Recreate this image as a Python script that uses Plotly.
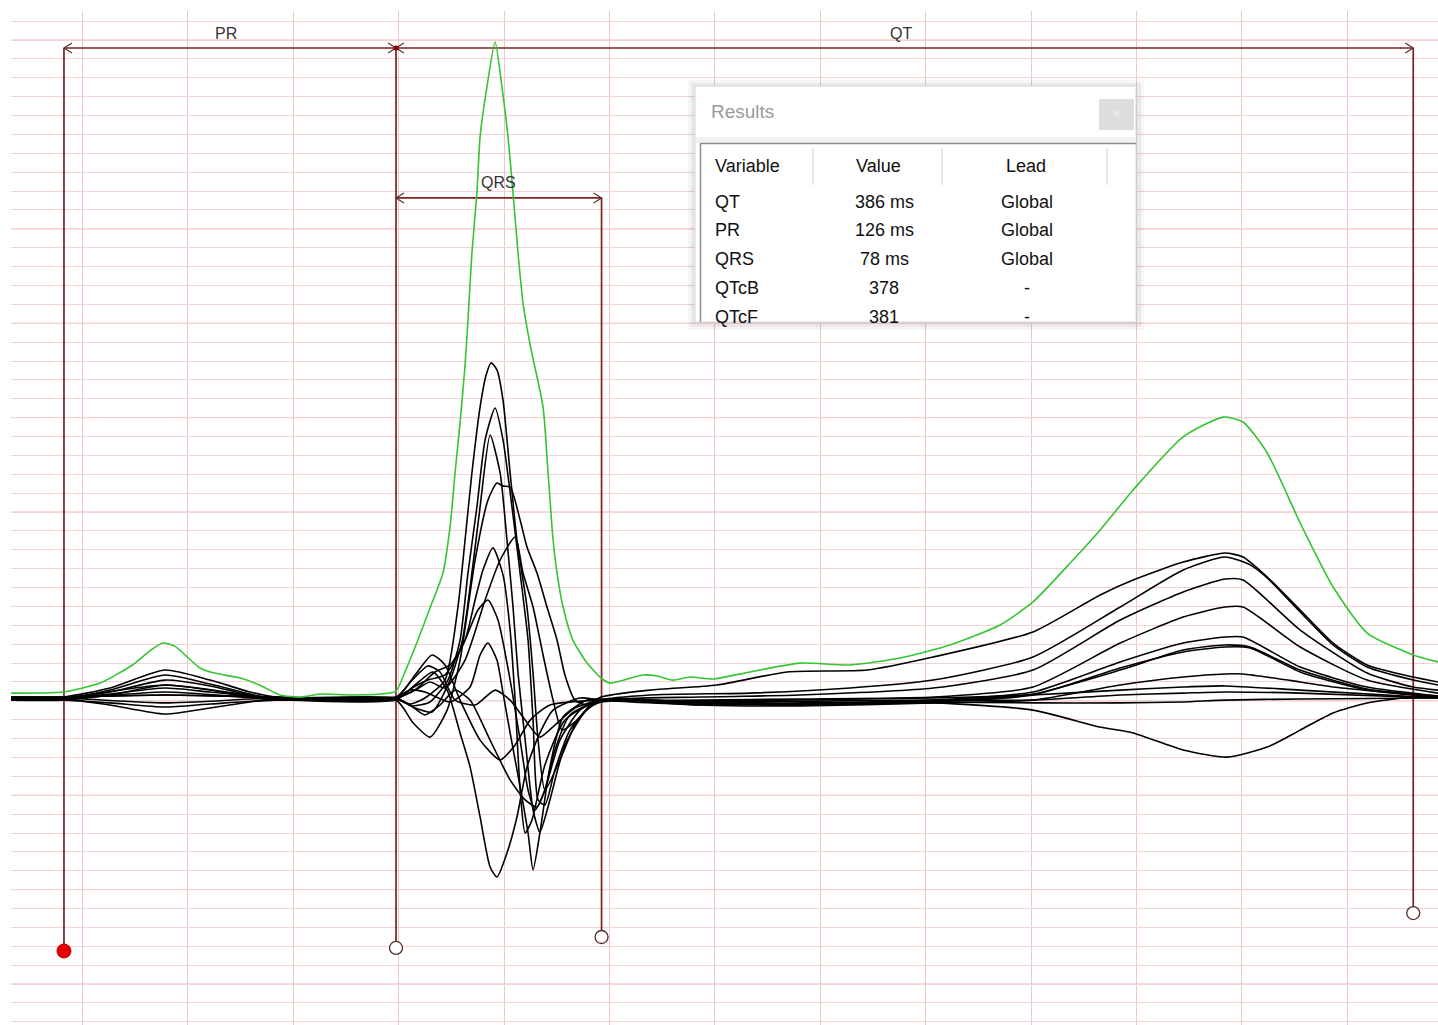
import plotly.graph_objects as go

# ---------------- data (time in ms from QRS onset, amplitude in microvolts) ----------------
GREEN_T = [-146.1, -126.4, -112.3, -100, -93, -88.4, -84, -74.4, -69, -59, -51, -44, -36, -29, -17, -6,
           0, 3.4, 8.3, 12.9, 17.8, 20.5, 22.4, 24.3, 26.2, 27.3, 28.8, 30.7, 31.9, 34.5, 37.6, 40.2, 42.5,
           44.4, 46.3, 48.2, 50.9, 55.8, 57.7, 59.6, 61.1, 63.4, 67.1, 72.5, 77.8, 81.2, 93.7, 99, 105,
           111.6, 120.3, 134.3, 153.3, 172.3, 191.3, 210.2, 229.2, 241.7, 256.9, 267.2, 279.7, 298.7,
           313.9, 321.4, 330.6, 343.1, 355.6, 368.5, 386, 395.4]
GREEN_V = [26, 32, 79, 175, 254, 291, 275, 159, 132, 106, 64, 16, 5, 21, 16, 21,
           37, 138, 307, 477, 662, 906, 1192, 1457, 1764, 2002, 2357, 2675, 2972, 3237, 3475, 3237, 2972,
           2675, 2357, 2092, 1870, 1541, 1192, 837, 662, 482, 307, 185, 106, 79, 122, 117, 95,
           111, 101, 138, 185, 175, 212, 281, 387, 509, 731, 890, 1102, 1383,
           1488, 1462, 1298, 927, 588, 344, 228, 191]

LEAD1_T = [-146.1, -126.4, -108.5, -87.7, -70.6, -55.4, -45.9, -25, 0, 5.3, 11, 18.6, 23.5, 26.2, 28.8,
           31.9, 34.2, 36.1, 38.3, 40.6, 43.3, 45.9, 49.7, 52, 53.9, 56.5, 62.2, 67.9, 73.6, 77.8, 96.4,
           121.8, 148.4, 178.7, 203.8, 241.7, 267.2, 279.7, 298.7, 314.6, 321.4, 330.6, 343.1, 355.6,
           368.5, 386, 395.4]
LEAD1_V = [5, 5, 53, 148, 95, 32, 5, -5, 0, -32, 0, 95, 482, 837, 1192,
           1541, 1711, 1775, 1738, 1578, 1192, 837, 482, 132, -222, -487, -328, -143, -37, 5, 42,
           69, 138, 148, 217, 350, 546, 625, 720, 768, 747, 641, 466, 291,
           175, 111, 85]

LEAD2_T = [-146.1, -126.4, -108.5, -87.7, -70.6, -55.4, -45.9, 0, 6.1, 12.9, 19.7, 24.3, 27.3, 30.7,
           33.8, 37.6, 40.6, 44, 47.1, 50.1, 52, 53.9, 56.5, 60.3, 66, 72.9, 77.8, 96.4, 134.3, 172.3,
           203.8, 241.7, 274.8, 298.7, 314.6, 324.1, 330.6, 343.1, 355.6, 368.5, 386, 395.4]
LEAD2_V = [-5, -5, 42, 122, 74, 21, -5, -5, -42, -21, 95, 307, 662, 1012,
           1367, 1536, 1367, 1012, 662, 307, -117, -540, -567, -381, -170, -53, -11, 16, 26, 53,
           95, 217, 482, 678, 747, 705, 636, 456, 281, 164, 95, 69]

LEAD3_T = [-146.1, -126.4, -108.5, -87.7, -70.6, -55.4, -45.9, 0, 7.2, 13.7, 20.5, 25.2, 28.8, 31.9,
           35.7, 39.5, 42.1, 44.4, 46.3, 49, 52, 54.6, 58.4, 64.1, 71.7, 77.8, 115.4, 153.3, 203.8,
           241.7, 274.8, 298.7, 314.6, 321.4, 343.1, 368.5, 386, 395.4]
LEAD3_V = [0, 0, 32, 95, 64, 16, 0, 0, -53, -74, 95, 307, 662, 1012,
           1393, 1192, 837, 482, 132, -222, -593, -710, -540, -249, -74, -16, 5, 16, 53,
           148, 413, 562, 630, 625, 360, 132, 58, 42]

LEAD4_T = [-146.1, -126.4, -108.5, -87.7, -70.6, -55.4, -45.9, 0, 6.5, 12.9, 19.4, 24.3, 30, 34.9,
           38.3, 40.6, 43.3, 47.1, 49.7, 53.5, 57.3, 61.1, 64.1, 67.9, 73.6, 77.8, 115.4, 153.3, 203.8,
           241.7, 274.8, 298.7, 314.6, 321.4, 343.1, 368.5, 395.4]
LEAD4_V = [-11, -11, 16, 69, 42, 5, -11, -11, -132, -207, -64, 201, 731, 1049,
           1139, 1123, 1118, 943, 800, 662, 482, 307, 122, -11, -42, -21, -11, -5, 5,
           58, 291, 429, 482, 482, 270, 95, 26]

LEAD5_T = [-146.1, -126.4, -108.5, -87.7, -70.6, -45.9, 0, 7.2, 12.9, 18.6, 26.2, 33.8, 39.5, 45.2,
           48.2, 52, 55.8, 59.6, 63, 67.9, 73.6, 77.8, 115.4, 153.3, 203.8, 241.7, 274.8, 298.7, 314.6,
           321.4, 343.1, 368.5, 395.4]
LEAD5_V = [0, 0, 21, 53, 32, 0, 0, 42, 85, 53, 201, 519, 731, 853,
           662, 482, 228, -11, -170, -127, -42, -11, -21, -26, -11, 32, 191, 291, 323,
           323, 164, 58, 11]

LEAD6_T = [-146.1, -126.4, -87.7, -45.9, 0, 6.1, 12.1, 18.6, 26.2, 30, 33, 36.8, 40.6, 43.3, 45.2,
           47.1, 49, 51.6, 56.5, 64.1, 77.8, 115.4, 153.3, 203.8, 241.7, 274.8, 298.7, 314.6, 324.1,
           343.1, 368.5, 395.4]
LEAD6_V = [-5, -5, 32, -5, -5, 53, 95, 122, 307, 519, 678, 795, 652, 360, -11,
           -487, -715, -646, -355, -117, -11, -37, -32, -21, 16, 159, 244, 270, 265,
           138, 42, 5]

LEAD7_T = [-146.1, -126.4, -87.7, -45.9, 0, 5.3, 11, 20.5, 28.1, 31.9, 34.9, 38.3, 40.6, 43.3, 47.1,
           50.1, 52, 54.6, 58.4, 63.4, 72.5, 77.8, 115.4, 153.3, 203.8, 241.7, 274.8, 298.7, 314.6,
           324.1, 343.1, 368.5, 395.4]
LEAD7_V = [5, 5, 16, 5, 5, 42, 32, -21, 58, 228, 291, 201, 26, -185, -471,
           -715, -911, -715, -365, -101, -11, -5, -26, -37, -16, 21, 148, 254, 281,
           270, 148, 48, 11]

LEAD8_T = [-146.1, -126.4, -108.5, -87.7, -70.6, -45.9, 0, 7.2, 14, 19.4, 24.3, 28.1, 31.9, 35.7,
           38.3, 42.1, 45.9, 49.7, 54.6, 59.6, 69.8, 77.8, 115.4, 153.3, 203.8, 241.7, 274.8, 298.7,
           314.6, 321.4, 343.1, 355.6, 395.4]
LEAD8_V = [-11, -11, -26, -48, -32, -11, -11, 69, 138, 42, -185, -365, -630, -895,
           -948, -821, -630, -365, -185, -64, 0, -11, -37, -42, -26, -11, 69, 111,
           127, 127, 85, 58, 5]

LEAD9_T = [-146.1, -126.4, -108.5, -87.7, -70.6, -55.4, -45.9, 0, 5.3, 11, 16.7, 22.4, 28.1, 35.7,
           43.3, 49, 53.5, 56.5, 60.3, 66, 77.8, 115.4, 153.3, 203.8, 241.7, 267.2, 279.7, 298.7,
           315.4, 330.6, 343.1, 355.6, 368.5, 386, 395.4]
LEAD9_V = [-5, -5, -37, -85, -53, -21, -5, -5, -37, -90, -37, 42, -11, -223,
           -434, -540, -577, -487, -275, -90, -11, -26, -37, -26, -64, -154, -185, -275,
           -313, -260, -170, -79, -26, 5, 5]

LEAD10_T = [-146.1, -126.4, -87.7, -45.9, 0, 7.2, 14.8, 20.5, 26.2, 31.1, 34.9, 38.7, 43.3, 47.1,
            50.1, 52.8, 56.5, 62.2, 69.8, 77.8, 115.4, 203.8, 241.7, 274.8, 298.7, 314.6, 343.1, 395.4]
LEAD10_V = [0, 0, 69, 0, 0, 42, 138, 175, 307, 466, 519, 413, 95, -223,
            -487, -593, -487, -223, -64, -11, -21, -11, -11, 16, 26, 32, 26, 0]

LEAD11_T = [-146.1, -126.4, -87.7, -45.9, 0, 6.1, 12.1, 16.7, 22.4, 30, 37.6, 43.3, 49, 54.6,
            60.3, 67.9, 77.8, 115.4, 203.8, 241.7, 274.8, 298.7, 314.6, 343.1, 395.4]
LEAD11_V = [5, 5, 16, 5, 5, 95, 170, 138, -11, -37, 42, -11, -117, -207,
            -143, -53, -11, -32, -21, -26, -26, -21, -11, -5, 0]

LEAD12_T = [-146.1, -126.4, -87.7, -45.9, 0, 7.2, 13.7, 18.6, 24.3, 31.9, 39.5, 45.2, 50.9, 58.4,
            77.8, 115.4, 203.8, 241.7, 274.8, 298.7, 314.6, 343.1, 395.4]
LEAD12_V = [0, 0, -26, 0, 0, 122, 228, 175, -11, -223, -328, -249, -117, -37,
            -11, -16, 0, 16, 42, 58, 64, 42, 0]

# measurement intervals and fiducial cursors
INTERVAL_NAMES = ["PR", "QRS", "QT"]
INTERVAL_START_MS = [-126, 0, 0]
INTERVAL_END_MS = [0, 78, 386]
INTERVAL_LEVEL_UV = [3443, 2649, 3443]

FIDUCIAL_MS = [-126, 0, 78, 386]
FIDUCIAL_TOP_UV = [3443, 3443, 2649, 3443]
FIDUCIAL_BOTTOM_UV = [-1340, -1324, -1266, -1139]
FIDUCIAL_SELECTED = [True, False, False, False]

# results table
RESULT_VARIABLES = ["QT", "PR", "QRS", "QTcB", "QTcF"]
RESULT_VALUES = ["386 ms", "126 ms", "78 ms", "378", "381"]
RESULT_LEADS = ["Global", "Global", "Global", "-", "-"]

# ---------------- figure ----------------
X_RANGE = [-146.1, 395.4]
Y_RANGE = [-1732, 3639]
GRID_Y0 = -15          # a major grid line passes through here (µV)
MINOR_STEP = 100       # µV per small box
MAJOR_STEP = 500       # µV per large box
PX_PER_MS = 1427 / (X_RANGE[1] - X_RANGE[0])
PX_PER_UV = 1014 / (Y_RANGE[1] - Y_RANGE[0])

CURSOR = "#7d2020"
FONT = "Liberation Sans, Arial, sans-serif"

fig = go.Figure()

# vertical cursor lines
for x, top, bot in zip(FIDUCIAL_MS, FIDUCIAL_TOP_UV, FIDUCIAL_BOTTOM_UV):
    fig.add_trace(go.Scatter(x=[x, x], y=[top, bot], mode="lines",
                             line=dict(color=CURSOR, width=1.7), hoverinfo="skip", showlegend=False))

# interval brackets with chevrons
dx = 8 / PX_PER_MS
dy = 5 / PX_PER_UV
for s, e, lev in zip(INTERVAL_START_MS, INTERVAL_END_MS, INTERVAL_LEVEL_UV):
    fig.add_trace(go.Scatter(x=[s, e], y=[lev, lev], mode="lines",
                             line=dict(color=CURSOR, width=1.7), hoverinfo="skip", showlegend=False))
    cx = [s + dx, s, s + dx, None, e - dx, e, e - dx]
    cy = [lev + dy, lev, lev - dy, None, lev + dy, lev, lev - dy]
    fig.add_trace(go.Scatter(x=cx, y=cy, mode="lines",
                             line=dict(color="#5a3030", width=1.2), hoverinfo="skip", showlegend=False))

# junction dot
fig.add_trace(go.Scatter(x=[INTERVAL_END_MS[0]], y=[INTERVAL_LEVEL_UV[0]], mode="markers",
                         marker=dict(color="#8b0000", size=5), hoverinfo="skip", showlegend=False))

# cursor handles
for x, bot, sel in zip(FIDUCIAL_MS, FIDUCIAL_BOTTOM_UV, FIDUCIAL_SELECTED):
    if sel:
        mk = dict(color="#e60000", size=14, line=dict(color="#b00000", width=1))
    else:
        mk = dict(color="white", size=13, line=dict(color="#5a2a2a", width=1.3))
    fig.add_trace(go.Scatter(x=[x], y=[bot], mode="markers", marker=mk,
                             hoverinfo="skip", showlegend=False))

# black leads
leads = [(LEAD1_T, LEAD1_V), (LEAD2_T, LEAD2_V), (LEAD3_T, LEAD3_V), (LEAD4_T, LEAD4_V),
         (LEAD5_T, LEAD5_V), (LEAD6_T, LEAD6_V), (LEAD7_T, LEAD7_V), (LEAD8_T, LEAD8_V),
         (LEAD9_T, LEAD9_V), (LEAD10_T, LEAD10_V), (LEAD11_T, LEAD11_V), (LEAD12_T, LEAD12_V)]
for t, v in leads:
    fig.add_trace(go.Scatter(x=t, y=v, mode="lines",
                             line=dict(color="black", width=1.6, shape="spline", smoothing=0.6),
                             hoverinfo="skip", showlegend=False))

# green global trace
fig.add_trace(go.Scatter(x=GREEN_T, y=GREEN_V, mode="lines",
                         line=dict(color="#33c533", width=1.6, shape="spline", smoothing=0.6),
                         hoverinfo="skip", showlegend=False))

annotations = []
for name, s, e, lev in zip(INTERVAL_NAMES, INTERVAL_START_MS, INTERVAL_END_MS, INTERVAL_LEVEL_UV):
    annotations.append(dict(x=(s + e) / 2, y=lev, xref="x", yref="y", text=name, showarrow=False,
                            xshift=-4 if name != "QRS" else 0, yshift=15,
                            font=dict(family=FONT, size=16, color="#333333")))

shapes = []

# large-box (major) horizontal grid lines, drawn beneath the traces
k_lo = int((Y_RANGE[0] - GRID_Y0) // MAJOR_STEP)
k_hi = int((Y_RANGE[1] - GRID_Y0) // MAJOR_STEP) + 1
for k in range(k_lo, k_hi + 1):
    yv = GRID_Y0 + k * MAJOR_STEP
    if Y_RANGE[0] <= yv <= Y_RANGE[1]:
        shapes.append(dict(type="line", xref="paper", yref="y", x0=0, x1=1, y0=yv, y1=yv,
                           layer="below", line=dict(color="rgb(238,172,172)", width=1)))

# ---------------- results dialog (pixel layout helpers) ----------------
def pxx(x):
    return (x - 11) / 1427


def pxy(y):
    return 1 - (y - 11) / 1014


def rect(x0, y0, x1, y1, fill, line=None, lw=0):
    shapes.append(dict(type="rect", xref="paper", yref="paper", x0=pxx(x0), x1=pxx(x1),
                       y0=pxy(y1), y1=pxy(y0), fillcolor=fill, layer="above",
                       line=dict(color=line or fill, width=lw)))


def hline(x0, x1, y, color, w):
    shapes.append(dict(type="line", xref="paper", yref="paper", x0=pxx(x0), x1=pxx(x1),
                       y0=pxy(y), y1=pxy(y), layer="above", line=dict(color=color, width=w)))


def vline(x, y0, y1, color, w):
    shapes.append(dict(type="line", xref="paper", yref="paper", x0=pxx(x), x1=pxx(x),
                       y0=pxy(y0), y1=pxy(y1), layer="above", line=dict(color=color, width=w)))


rect(688, 80, 1144, 330, "rgba(0,0,0,0.035)")
rect(691, 83, 1141, 327, "rgba(0,0,0,0.05)")
rect(695, 86, 1136, 322, "white", "rgb(214,214,214)", 1)
rect(1099, 99, 1134, 130, "rgb(221,221,221)")
rect(696, 137, 1136, 143, "rgb(241,241,241)")
hline(700, 1136, 143.5, "rgb(140,140,140)", 1.5)
vline(700.5, 143, 322, "rgb(140,140,140)", 1.5)
for sx in [813, 942, 1107]:
    vline(sx, 148, 185, "rgb(226,226,226)", 1.5)

def txt(x, y, s, anchor="left", size=18, color="#111111"):
    annotations.append(dict(x=pxx(x), y=pxy(y), xref="paper", yref="paper", text=s, showarrow=False,
                            xanchor=anchor, yanchor="middle",
                            font=dict(family=FONT, size=size, color=color)))

txt(709, 112, "Results", size=19, color="#9b9b9b")
txt(1116, 114, "×", anchor="center", size=12, color="#f2f2f2")
txt(713, 166, "Variable")
txt(878, 166, "Value", anchor="center")
txt(1026, 166, "Lead", anchor="center")
row_y = [202, 230, 259, 288, 317]
for yy, var, val, lead in zip(row_y, RESULT_VARIABLES, RESULT_VALUES, RESULT_LEADS):
    txt(713, yy, var)
    txt(884, yy, val, anchor="center")
    txt(1027, yy, lead, anchor="center")

fig.update_layout(
    width=1438, height=1025,
    margin=dict(l=11, r=0, t=11, b=0),
    paper_bgcolor="white", plot_bgcolor="white",
    showlegend=False,
    shapes=shapes, annotations=annotations,
    xaxis=dict(range=X_RANGE, tick0=1, dtick=40, showgrid=True, gridcolor="rgb(238,198,198)",
               gridwidth=1, zeroline=False, showticklabels=False, ticks="", showline=False,
               fixedrange=True),
    yaxis=dict(range=Y_RANGE, tick0=GRID_Y0, dtick=MINOR_STEP, showgrid=True,
               gridcolor="rgb(247,208,208)", gridwidth=1, zeroline=False, showticklabels=False,
               ticks="", showline=False, fixedrange=True),
)

fig.write_html(
    "out.html",
    config={"displayModeBar": False},
    post_script="document.body.style.margin='0px';document.body.style.overflow='hidden';",
)
